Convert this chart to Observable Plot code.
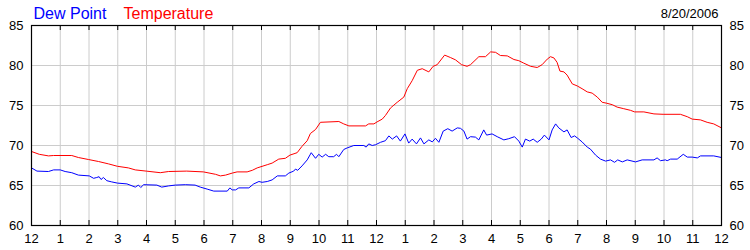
<!DOCTYPE html>
<html>
<head>
<meta charset="utf-8">
<script src="https://cdn.jsdelivr.net/npm/d3@7"></script>
<script src="https://cdn.jsdelivr.net/npm/@observablehq/plot@0.6"></script>
<style>
  html, body { margin: 0; padding: 0; background: #fff; }
</style>
</head>
<body>
<div id="chart"></div>
<script>
// hour ticks and labels (midnight to midnight)
const hourTicks = d3.range(0, 25);
const hourLabels = ["12","1","2","3","4","5","6","7","8","9","10","11","12","1","2","3","4","5","6","7","8","9","10","11","12"];
const yTicks = [60, 65, 70, 75, 80, 85];
const gridY = [65, 70, 75, 80];

const seriesNames = ["Dew Point", "Temperature"];
const dateLabel = ["8/20/2006"];

// [hour, °F]
const temperature = [
  [0.00,69.25],[0.27,68.9],[0.59,68.7],[0.77,68.75],[1.40,68.75],[1.63,68.5],[1.98,68.25],[2.33,68.0],
  [2.68,67.7],[2.99,67.4],[3.37,67.2],[3.61,66.95],[3.99,66.8],[4.48,66.6],[4.77,66.75],[5.40,66.8],
  [5.98,66.7],[6.40,66.4],[6.57,66.2],[6.75,66.3],[6.98,66.55],[7.15,66.7],[7.50,66.7],[7.68,66.9],
  [7.85,67.2],[8.20,67.6],[8.37,67.8],[8.60,68.3],[8.83,68.4],[8.99,68.8],[9.24,69.1],[9.41,69.9],
  [9.59,70.6],[9.70,71.5],[9.88,72.0],[10.05,72.9],[10.69,73.0],[10.86,72.7],[11.04,72.45],[11.62,72.45],
  [11.73,72.7],[11.91,72.7],[12.02,72.95],[12.20,73.3],[12.31,73.75],[12.49,74.7],[12.72,75.4],[12.95,76.05],
  [13.07,77.1],[13.24,78.1],[13.42,79.4],[13.59,79.6],[13.82,79.2],[13.97,79.9],[14.11,80.1],[14.37,81.3],
  [14.57,81.0],[14.75,80.7],[14.96,80.1],[15.15,79.9],[15.27,80.1],[15.56,81.1],[15.79,81.1],[15.97,81.7],
  [16.14,81.65],[16.31,81.25],[16.55,81.2],[16.78,80.75],[16.95,80.6],[17.12,80.3],[17.36,79.9],[17.59,79.75],
  [17.76,80.1],[17.94,80.8],[18.05,81.1],[18.17,80.95],[18.28,80.4],[18.38,79.3],[18.52,79.2],[18.63,78.8],
  [18.81,77.7],[18.98,77.45],[19.15,77.1],[19.33,76.7],[19.50,76.55],[19.68,76.05],[19.85,75.4],[19.99,75.3],
  [20.20,75.1],[20.37,74.8],[20.60,74.6],[20.83,74.4],[20.98,74.2],[21.30,74.2],[21.65,73.95],[21.97,73.9],
  [22.57,73.9],[22.81,73.6],[22.98,73.3],[23.27,73.2],[23.50,72.9],[23.73,72.7],[24.00,72.2]
];

const dewPoint = [
  [0.00,67.2],[0.19,66.8],[0.59,66.75],[0.77,66.95],[1.00,66.95],[1.17,66.75],[1.40,66.6],[1.63,66.3],
  [2.01,66.2],[2.16,65.9],[2.27,66.0],[2.35,66.1],[2.42,65.75],[2.50,66.0],[2.62,65.6],[2.79,65.45],
  [2.99,65.3],[3.32,65.2],[3.61,64.8],[3.72,65.05],[3.80,64.75],[3.90,65.1],[4.36,65.05],[4.53,64.8],
  [4.77,64.95],[5.00,65.05],[5.35,65.1],[5.69,65.05],[5.87,64.8],[6.11,64.55],[6.34,64.3],[6.81,64.3],
  [6.90,64.7],[6.98,64.45],[7.10,64.45],[7.21,64.7],[7.56,64.7],[7.73,65.2],[7.91,65.5],[8.02,65.4],
  [8.20,65.5],[8.37,65.7],[8.55,66.2],[8.83,66.2],[8.95,66.55],[9.12,66.8],[9.18,67.05],[9.26,66.9],
  [9.41,67.45],[9.59,68.2],[9.73,69.1],[9.88,68.4],[9.99,68.9],[10.11,68.55],[10.23,68.9],[10.34,68.6],
  [10.51,68.6],[10.61,68.9],[10.69,68.6],[10.86,69.5],[10.98,69.7],[11.21,70.0],[11.56,70.0],[11.64,69.8],
  [11.73,70.2],[11.85,70.0],[11.97,70.1],[12.14,70.4],[12.31,70.6],[12.43,71.2],[12.55,70.8],[12.70,71.2],
  [12.83,70.55],[12.99,71.45],[13.12,70.3],[13.24,70.8],[13.39,70.2],[13.53,70.95],[13.65,70.2],[13.82,70.7],
  [13.94,70.45],[14.05,70.9],[14.17,70.4],[14.32,71.8],[14.48,72.1],[14.63,71.8],[14.81,72.2],[14.92,72.15],
  [15.04,71.8],[15.15,70.8],[15.27,71.1],[15.44,71.05],[15.56,70.7],[15.73,71.95],[15.83,71.3],[16.02,71.45],
  [16.20,71.1],[16.43,70.7],[16.60,70.85],[16.80,71.1],[16.95,70.55],[17.07,69.8],[17.18,70.8],[17.33,70.55],
  [17.45,70.8],[17.59,70.4],[17.73,70.8],[17.84,71.3],[18.00,70.7],[18.11,71.95],[18.23,72.7],[18.34,72.2],
  [18.52,71.7],[18.63,71.95],[18.77,71.0],[18.89,71.2],[19.00,70.9],[19.15,70.45],[19.33,69.8],[19.44,69.55],
  [19.62,68.8],[19.79,68.3],[19.97,68.05],[20.14,68.2],[20.28,67.9],[20.39,68.2],[20.55,67.95],[20.72,68.2],
  [21.01,67.95],[21.24,68.2],[21.65,68.2],[21.76,68.45],[21.88,68.1],[22.05,68.2],[22.11,68.1],[22.23,68.3],
  [22.46,68.3],[22.67,68.9],[22.81,68.55],[22.98,68.55],[23.16,68.45],[23.27,68.7],[23.73,68.7],[24.00,68.5]
];

const temp = temperature.map(([h, v]) => ({h, v}));
const dew = dewPoint.map(([h, v]) => ({h, v}));

const chart = Plot.plot({
  width: 750,
  height: 250,
  marginLeft: 31,
  marginRight: 29,
  marginTop: 25,
  marginBottom: 25,
  style: {fontFamily: "'Liberation Sans', Arial, sans-serif", fontSize: "13px", background: "#fff", color: "#000"},
  x: {domain: [0, 24], ticks: hourTicks, tickFormat: d => hourLabels[d], tickSize: 0, tickPadding: 8, label: null},
  y: {domain: [60, 85], ticks: yTicks, axis: "both", tickSize: 0, tickPadding: 8, label: null},
  marks: [
    Plot.ruleX(hourTicks, {x: d => d, stroke: "#cccccc", strokeWidth: 1}),
    Plot.ruleY(gridY, {y: d => d, stroke: "#cccccc", strokeWidth: 1}),
    Plot.ruleX(hourTicks, {x: d => d, stroke: "#000", insetTop: 195}),
    Plot.ruleX(hourTicks, {x: d => d, stroke: "#000", insetBottom: 195}),
    Plot.line(dew, {x: "h", y: "v", stroke: "#0000ff", strokeWidth: 1}),
    Plot.line(temp, {x: "h", y: "v", stroke: "#ff0000", strokeWidth: 1}),
    Plot.frame({stroke: "#000", strokeWidth: 1.2}),
    Plot.text([seriesNames[0]], {text: d => d, frameAnchor: "top-left", textAnchor: "start", lineAnchor: "bottom", dx: 2, dy: -7, fill: "#0000ff", fontSize: 16}),
    Plot.text([seriesNames[1]], {text: d => d, frameAnchor: "top-left", textAnchor: "start", lineAnchor: "bottom", dx: 92, dy: -7, fill: "#ff0000", fontSize: 16}),
    Plot.text(dateLabel, {text: d => d, frameAnchor: "top-right", textAnchor: "end", lineAnchor: "bottom", dx: -3, dy: -8, fill: "#000", fontSize: 13})
  ]
});
document.getElementById("chart").appendChild(chart);
</script>
</body>
</html>
